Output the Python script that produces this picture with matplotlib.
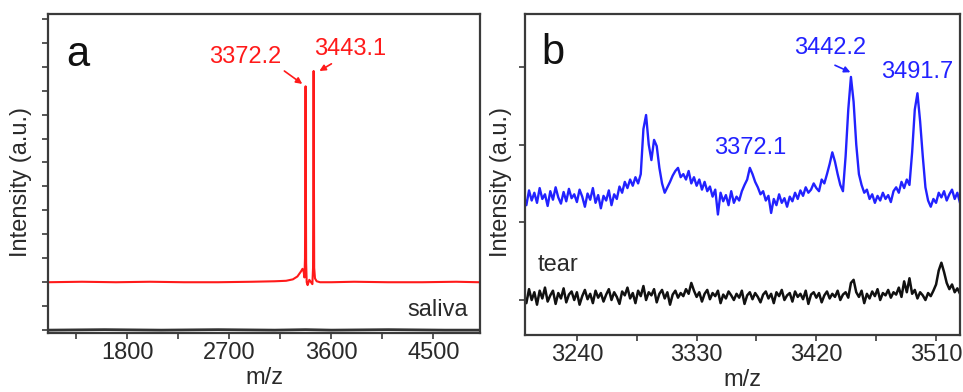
import numpy as np
import matplotlib
matplotlib.use("Agg")
import matplotlib.pyplot as plt
from matplotlib.ticker import MultipleLocator, FixedLocator

plt.rcParams['font.family'] = ['Liberation Sans', 'DejaVu Sans']

# ---------------- data: panel a (saliva) ----------------
saliva_mz = [1100, 1400, 1700, 2000, 2300, 2600, 2900, 3100, 3200, 3260, 3300, 3330, 3345,
             3355, 3362, 3367, 3372, 3377, 3382, 3390, 3405, 3420, 3432, 3438, 3443, 3448,
             3455, 3470, 3500, 3600, 3800, 4100, 4400, 4700, 4900]
saliva_red = [1.00, 1.01, 1.00, 1.01, 1.00, 1.00, 1.01, 1.02, 1.03, 1.06, 1.12, 1.22, 1.28,
              1.22, 1.10, 1.50, 5.09, 1.40, 1.00, 0.94, 1.05, 1.00, 0.96, 1.30, 5.41, 1.30,
              1.08, 1.02, 1.00, 1.00, 1.01, 1.00, 1.00, 1.01, 1.00]
saliva_blank_mz = [1100, 1600, 2100, 2600, 3100, 3372, 3600, 4100, 4600, 4900]
saliva_blank = [0.00, 0.01, 0.00, 0.01, 0.00, 0.01, 0.00, 0.01, 0.00, 0.00]
a_xticks = [1800, 2700, 3600, 4500]
a_peaks = ["3372.2", "3443.1"]

# ---------------- data: panel b (tear) ----------------
tear_mz = np.arange(3200, 3530, 2)
tear_blue = [
    1.35, 1.22, 1.41, 1.28, 1.38, 1.25, 1.44, 1.30, 1.36, 1.21,
    1.40, 1.29, 1.45, 1.32, 1.24, 1.39, 1.27, 1.43, 1.31, 1.36,
    1.26, 1.42, 1.33, 1.20, 1.37, 1.29, 1.44, 1.25, 1.35, 1.18,
    1.34, 1.28, 1.41, 1.22, 1.36, 1.30, 1.46, 1.38, 1.52, 1.44,
    1.55, 1.47, 1.58, 1.50, 1.62, 2.20, 2.38, 2.00, 1.80, 2.06,
    1.98, 1.70, 1.50, 1.38, 1.45, 1.52, 1.60, 1.66, 1.70, 1.58,
    1.62, 1.55, 1.66, 1.50, 1.58, 1.47, 1.55, 1.42, 1.52, 1.40,
    1.46, 1.33, 1.42, 1.10, 1.38, 1.27, 1.35, 1.22, 1.40, 1.25,
    1.33, 1.28, 1.40, 1.48, 1.55, 1.70, 1.62, 1.52, 1.45, 1.36,
    1.40, 1.28, 1.34, 1.12, 1.30, 1.22, 1.36, 1.25, 1.31, 1.20,
    1.33, 1.27, 1.38, 1.30, 1.41, 1.34, 1.45, 1.38, 1.42, 1.50,
    1.44, 1.40, 1.55, 1.50, 1.62, 1.75, 1.90, 1.78, 1.62, 1.48,
    1.40, 1.85, 2.45, 2.87, 2.55, 2.00, 1.62, 1.48, 1.38, 1.42,
    1.30, 1.36, 1.25, 1.34, 1.28, 1.38, 1.30, 1.35, 1.26, 1.40,
    1.45, 1.38, 1.52, 1.44, 1.55, 1.48, 1.90, 2.45, 2.66, 2.30,
    1.85, 1.45, 1.28, 1.20, 1.30, 1.25, 1.38, 1.32, 1.40, 1.28,
    1.36, 1.42, 1.30, 1.38, 1.25]
tear_black = [
    0.08, -0.04, 0.14, 0.00, 0.10, -0.06, 0.12, 0.02, 0.16, -0.02,
    0.06, 0.12, -0.05, 0.09, 0.02, 0.15, -0.03, 0.07, 0.11, 0.00,
    0.10, -0.06, 0.05, 0.13, 0.01, 0.08, -0.04, 0.12, 0.03, 0.09,
    -0.02, 0.07, 0.14, 0.00, 0.10, 0.04, -0.05, 0.11, 0.06, 0.16,
    0.02, 0.09, -0.04, 0.12, 0.05, 0.18, 0.00, 0.10, 0.06, 0.14,
    -0.03, 0.08, 0.13, 0.02, 0.10, -0.06, 0.07, 0.12, 0.03, 0.09,
    0.05, 0.14, 0.08, 0.22, 0.12, 0.04, 0.10, -0.02, 0.08, 0.13,
    0.01, 0.09, 0.05, 0.12, -0.04, 0.07, 0.02, 0.11, 0.06, 0.00,
    0.08, 0.03, 0.12, -0.05, 0.06, 0.10, 0.01, 0.09, 0.04, -0.03,
    0.07, 0.11, 0.02, 0.08, -0.04, 0.10, 0.05, 0.13, 0.00, 0.06,
    0.09, -0.02, 0.11, 0.04, 0.08, 0.01, 0.12, -0.05, 0.07, 0.10,
    0.03, 0.09, -0.03, 0.06, 0.11, 0.02, 0.08, 0.04, 0.12, 0.00,
    0.07, 0.10, 0.03, 0.22, 0.26, 0.10, 0.04, 0.12, -0.04, 0.08,
    0.02, 0.11, 0.05, 0.14, 0.00, 0.09, 0.06, 0.13, 0.03, 0.10,
    0.07, 0.16, 0.04, 0.24, 0.10, 0.28, 0.08, 0.13, 0.02, 0.10,
    0.06, 0.00, 0.09, 0.05, 0.12, 0.20, 0.38, 0.48, 0.36, 0.22,
    0.14, 0.20, 0.10, 0.15, 0.08]
b_xticks = [3240, 3330, 3420, 3510]
b_peaks = ["3442.2", "3491.7", "3372.1"]

RED = '#ff1a1a'
BLUE = '#2222ff'
TXT = '#2a2a2a'
SPINE = '#3a3a3a'

fig = plt.figure(figsize=(9.63, 3.92), dpi=100)
axa = fig.add_axes([0.0498, 0.1505, 0.4486, 0.8138])
axb = fig.add_axes([0.5452, 0.1454, 0.4517, 0.8190])

for ax in (axa, axb):
    for s in ax.spines.values():
        s.set_color(SPINE)
        s.set_linewidth(1.6)
    ax.tick_params(axis='both', which='both', direction='out', color=SPINE,
                   width=1.2, labelcolor=TXT, labelsize=17, pad=2)
    ax.tick_params(axis='both', which='major', length=4.5)
    ax.tick_params(axis='both', which='minor', length=4)
    ax.tick_params(axis='y', labelleft=False)
    ax.set_ylabel('Intensity (a.u.)', fontsize=17, color=TXT)
    ax.set_xlabel('m/z', fontsize=17, color=TXT)

# ---- panel a ----
axa.plot(saliva_blank_mz, saliva_blank, color='#333333', lw=2.0)
axa.plot(saliva_mz, saliva_red, color=RED, lw=1.5)
axa.set_xlim(1100, 4910)
axa.set_ylim(-0.06, 6.6)
axa.xaxis.set_major_locator(FixedLocator(a_xticks))
axa.xaxis.set_minor_locator(FixedLocator([1350, 2250, 3150, 4050]))
axa.yaxis.set_major_locator(MultipleLocator(0.5))
axa.yaxis.set_label_coords(-0.036, 0.473)
axa.xaxis.set_label_coords(0.5, -0.105)
axa.text(0.069, 0.87, 'a', transform=axa.transAxes, fontsize=30, color='#111111',
         ha='center', va='center')
axa.text(0.903, 0.072, 'saliva', transform=axa.transAxes, fontsize=17, color=TXT,
         ha='center', va='center')
axa.text(2841, 5.70, a_peaks[0], color=RED, fontsize=17, ha='center', va='center')
axa.text(3768, 5.87, a_peaks[1], color=RED, fontsize=17, ha='center', va='center')
arrow = dict(arrowstyle='-|>', color=RED, lw=1.2, mutation_scale=9, shrinkA=0, shrinkB=0)
axa.annotate('', xy=(3343, 5.14), xytext=(3185, 5.41), arrowprops=arrow)
axa.annotate('', xy=(3494, 5.41), xytext=(3600, 5.56), arrowprops=arrow)

# ---- panel b ----
axb.plot(tear_mz, tear_black, color='#111111', lw=1.8)
axb.plot(tear_mz, tear_blue, color=BLUE, lw=1.7)
axb.set_xlim(3201, 3528)
axb.set_ylim(-0.45, 3.68)
axb.xaxis.set_major_locator(FixedLocator(b_xticks))
axb.xaxis.set_minor_locator(FixedLocator([3285, 3375, 3465]))
axb.yaxis.set_major_locator(FixedLocator([0, 1, 2, 3]))
axb.yaxis.set_label_coords(-0.031, 0.477)
axb.xaxis.set_label_coords(0.5, -0.105)
axb.text(0.064, 0.878, 'b', transform=axb.transAxes, fontsize=30, color='#111111',
         ha='center', va='center')
axb.text(0.076, 0.218, 'tear', transform=axb.transAxes, fontsize=17, color=TXT,
         ha='center', va='center')
axb.text(3430.5, 3.24, b_peaks[0], color=BLUE, fontsize=17, ha='center', va='center')
axb.text(3496, 2.93, b_peaks[1], color=BLUE, fontsize=17, ha='center', va='center')
axb.text(3370.6, 1.96, b_peaks[2], color=BLUE, fontsize=17, ha='center', va='center')
arrowb = dict(arrowstyle='-|>', color=BLUE, lw=1.2, mutation_scale=9, shrinkA=0, shrinkB=0)
axb.annotate('', xy=(3445.6, 2.93), xytext=(3434, 3.02), arrowprops=arrowb)

fig.savefig('out.png', dpi=100)
